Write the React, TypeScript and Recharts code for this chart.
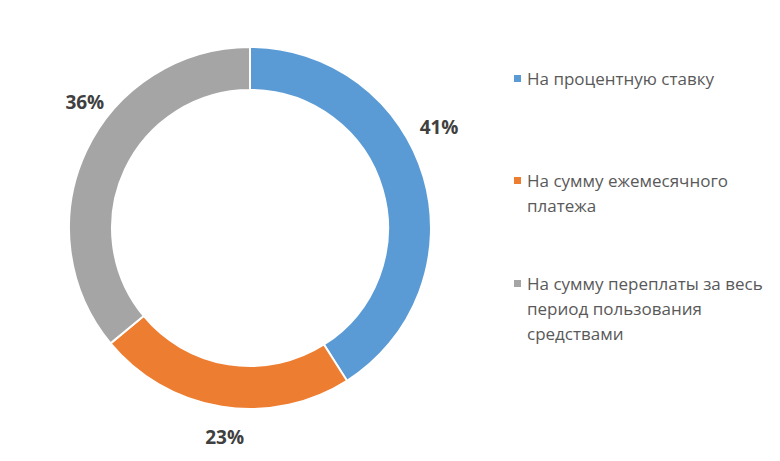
import React from 'react';
import { PieChart, Pie, Cell, Legend } from 'recharts';

const categories = [
  'На процентную ставку',
  'На сумму ежемесячного платежа',
  'На сумму переплаты за весь период пользования средствами',
];
const shares = [41, 23, 36];
const colors = ['#5B9BD5', '#ED7D31', '#A5A5A5'];

// legend rows as wrapped in the original
const legendLines = [
  ['На процентную ставку'],
  ['На сумму ежемесячного', 'платежа'],
  ['На сумму переплаты за весь', 'период пользования', 'средствами'],
];

const data = categories.map((name, i) => ({ name, value: shares[i] }));

const RAD = Math.PI / 180;
// Excel "best fit" pushes labels a bit off the mid-angle
const angleNudge = [12.5, 1, -11.5];

function renderLabel(props: any) {
  const { cx, cy, midAngle, outerRadius, index, value } = props;
  const a = (midAngle + angleNudge[index]) * RAD;
  const r = outerRadius + 30;
  const x = cx + r * Math.cos(a) + 4;
  const y = cy - r * Math.sin(a);
  return (
    <text
      x={x}
      y={y}
      textAnchor="middle"
      dominantBaseline="central"
      fill="#404040"
      fontSize={19}
      fontWeight="bold"
      fontFamily="'Open Sans', sans-serif"
    >
      {`${value}%`}
    </text>
  );
}

function LegendBox() {
  const tops = [66, 168, 271];
  return (
    <div style={{ position: 'relative', width: 260, height: 350 }}>
      {legendLines.map((lines, i) => (
        <div
          key={i}
          style={{ position: 'absolute', left: 0, top: tops[i], fontFamily: "'Open Sans', sans-serif", fontSize: 17, lineHeight: '25px', color: '#595959' }}
        >
          <span style={{ position: 'absolute', left: 0, top: 9, width: 7, height: 7, background: colors[i] }} />
          {lines.map((l, j) => (
            <div key={j} style={{ paddingLeft: 13, whiteSpace: 'nowrap' }}>{l}</div>
          ))}
        </div>
      ))}
    </div>
  );
}

export default function App() {
  return (
    <div style={{ width: 780, height: 461, background: '#fff', position: 'relative' }}>
      <style>{'body{margin:0}'}</style>
      <PieChart width={780} height={461} margin={{ top: 0, right: 0, bottom: 0, left: 0 }}>
        <Pie
          data={data}
          dataKey="value"
          cx={250}
          cy={228}
          innerRadius={138}
          outerRadius={181}
          startAngle={90}
          endAngle={-270}
          stroke="#fff"
          strokeWidth={2}
          label={renderLabel}
          labelLine={false}
          isAnimationActive={false}
        >
          {data.map((d, i) => (
            <Cell key={d.name} fill={colors[i]} />
          ))}
        </Pie>
        <Legend
          content={() => <LegendBox />}
          wrapperStyle={{ position: 'absolute', left: 514, top: 0, width: 266 }}
        />
      </PieChart>
    </div>
  );
}
